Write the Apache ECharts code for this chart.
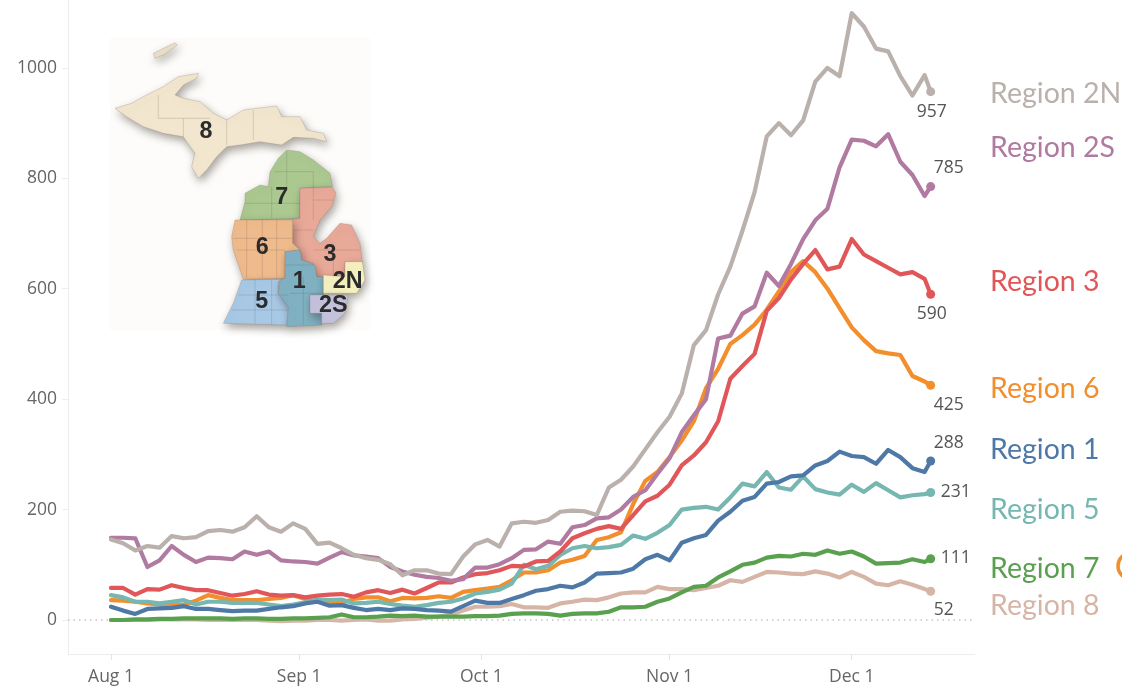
<!DOCTYPE html>
<html><head><meta charset="utf-8">
<style>html,body{margin:0;padding:0;background:#fff}#c{width:1122px;height:686px}</style>
<script src="https://cdn.jsdelivr.net/npm/echarts@6/dist/echarts.min.js"></script>
</head><body><div id="c"></div>
<script>
const dates = ['2020-08-01','2020-08-03','2020-08-05','2020-08-07','2020-08-09','2020-08-11','2020-08-13','2020-08-15','2020-08-17','2020-08-19','2020-08-21','2020-08-23','2020-08-25','2020-08-27','2020-08-29','2020-08-31',
'2020-09-02','2020-09-04','2020-09-06','2020-09-08','2020-09-10','2020-09-12','2020-09-14','2020-09-16','2020-09-18','2020-09-20','2020-09-22','2020-09-24','2020-09-26','2020-09-28','2020-09-30',
'2020-10-02','2020-10-04','2020-10-06','2020-10-08','2020-10-10','2020-10-12','2020-10-14','2020-10-16','2020-10-18','2020-10-20','2020-10-22','2020-10-24','2020-10-26','2020-10-28','2020-10-30',
'2020-11-01','2020-11-03','2020-11-05','2020-11-07','2020-11-09','2020-11-11','2020-11-13','2020-11-15','2020-11-17','2020-11-19','2020-11-21','2020-11-23','2020-11-25','2020-11-27','2020-11-29',
'2020-12-01','2020-12-03','2020-12-05','2020-12-07','2020-12-09','2020-12-11','2020-12-13','2020-12-14'];

const region8 = [0,0,0,0,1,1,1,1,0,0,0,0,0,-1,-2,-1,-1,0,0,-1,0,1,-1,-1,1,2,4,6,10,17,24,24,25,29,23,23,22,30,33,37,36,41,48,50,50,60,56,56,54,58,62,72,69,78,87,86,84,83,88,84,77,87,78,66,63,70,64,56,52];
const region6 = [36,35,33,30,28,27,28,35,45,40,36,36,36,38,40,45,38,33,32,31,38,41,41,34,40,39,40,43,40,51,54,57,60,72,86,86,90,104,109,116,145,150,159,210,252,268,295,325,360,420,455,500,516,535,562,595,630,650,630,600,565,530,507,487,483,480,442,432,425];
const region5 = [45,41,33,33,30,33,36,28,33,33,31,31,31,28,25,28,32,37,36,37,30,31,33,29,26,24,27,31,33,39,48,51,55,66,100,92,98,118,130,134,130,132,136,153,147,158,172,200,203,205,200,222,247,242,268,240,236,260,237,231,227,245,232,248,235,222,226,228,231];
const region3 = [58,58,46,56,55,63,58,54,54,49,44,47,52,46,44,45,41,44,46,47,42,50,54,49,55,48,58,68,68,77,83,85,90,98,97,106,107,124,148,157,165,170,165,190,215,225,245,280,298,322,360,437,460,482,560,583,617,645,670,635,640,690,662,650,638,626,630,618,590];
const region2S = [149,149,148,96,108,134,118,105,113,112,110,124,118,124,108,106,105,102,113,123,117,115,112,96,88,82,78,76,71,74,95,95,101,112,127,128,142,138,168,172,184,186,200,223,235,265,293,340,371,400,510,515,555,568,629,605,645,690,724,745,820,870,868,858,880,830,806,768,785];
const region2N = [146,139,126,134,131,152,148,150,161,163,160,168,188,168,160,175,165,138,140,130,118,112,109,101,81,90,90,84,83,115,137,145,133,175,178,176,181,196,198,197,190,240,254,278,309,340,368,410,498,525,590,640,705,775,876,900,878,905,975,1000,985,1099,1075,1035,1030,985,950,987,957];
const region1 = [24,17,11,20,21,22,25,20,20,18,16,17,17,20,23,25,30,33,26,27,22,18,20,18,21,20,18,17,15,25,35,31,31,38,45,53,56,62,59,68,84,85,86,93,110,118,108,140,148,154,180,196,216,223,247,250,260,262,280,288,305,297,295,283,308,295,275,268,288];
const region7 = [0,0,1,1,2,2,3,3,3,3,2,3,3,2,2,3,3,4,5,10,5,5,6,8,7,8,6,6,6,6,7,7,8,11,12,12,11,8,11,12,12,15,23,23,24,33,39,50,60,62,77,88,100,104,113,116,115,120,118,126,120,124,115,102,103,104,110,105,111];

const seriesNames = ['Region 8','Region 6','Region 5','Region 3','Region 2S','Region 2N','Region 1','Region 7'];
const seriesValues = [region8,region6,region5,region3,region2S,region2N,region1,region7];
const seriesColors = ['#d7b5a6','#f28e2b','#76b7b2','#e15759','#b07aa1','#bab0ac','#4e79a7','#59a14f'];
const endLabelOffsets = [[13,19],[18,20],[25,0],[1,20],[18,-19],[1,20],[18,-18],[25,-1]];

const yTicks = [0,200,400,600,800,1000];
const xTickDates = ['2020-08-01','2020-09-01','2020-10-01','2020-11-01','2020-12-01'];
const xTickLabels = ['Aug 1','Sep 1','Oct 1','Nov 1','Dec 1'];

const legendNames = ['Region 2N','Region 2S','Region 3','Region 6','Region 1','Region 5','Region 7','Region 8'];
const legendColors = ['#bab0ac','#b07aa1','#e15759','#f28e2b','#4e79a7','#76b7b2','#59a14f','#d7b5a6'];
const legendY = [94,148,282,389,450,510,569,606];

const mapShapes = [
 ['#ecdfc8',[[160,70],[225,38],[232,45],[195,72],[165,85]]],
 ['#f2e6cf',[[45,235],[95,220],[130,200],[190,170],[235,140],[295,130],[290,145],[250,165],[225,195],[250,205],[300,215],[340,250],[380,270],[430,240],[470,235],[530,228],[545,260],[600,260],[620,300],[670,310],[680,335],[640,325],[580,322],[545,345],[480,335],[420,345],[380,350],[350,380],[320,420],[295,445],[275,410],[285,370],[250,320],[190,310],[130,290],[80,260]]],
 ['#aac890',[[535,385],[560,360],[600,365],[640,390],[690,430],[697,470],[640,472],[600,475],[600,565],[420,570],[435,515],[435,490],[480,465],[505,470],[510,425]]],
 ['#e9a999',[[600,475],[697,472],[708,490],[695,530],[660,570],[640,620],[660,640],[680,625],[720,580],[755,585],[780,640],[787,700],[735,695],[735,740],[670,740],[650,740],[640,700],[605,690],[600,660],[575,640],[578,568],[600,565]]],
 ['#efba8c',[[405,570],[578,570],[578,640],[600,660],[555,665],[555,745],[430,748],[400,660],[395,620]]],
 ['#a8c9e6',[[425,750],[555,748],[535,755],[535,790],[565,800],[570,840],[560,885],[370,880],[400,820]]],
 ['#80b1c2',[[555,665],[600,660],[605,690],[645,705],[650,740],[670,740],[670,795],[630,795],[630,850],[665,850],[665,885],[560,890],[565,830],[535,790],[540,750],[555,745]]],
 ['#f5f0bf',[[735,695],[787,695],[795,750],[770,790],[670,790],[670,735],[735,740]]],
 ['#c4c1dc',[[630,795],[745,795],[735,850],[700,880],[665,880],[665,850],[630,850]]]
];
const mapCountyLines = [
 [[175,195],[175,265],[250,265],[250,320]],[[250,265],[330,265]],[[460,240],[460,330]],[[380,270],[380,345]],
 [[525,425],[640,425],[640,472]],[[560,365],[560,475]],[[435,520],[600,520]],[[515,470],[515,565]],
 [[640,510],[700,510]],[[640,472],[640,570]],[[580,600],[640,600]],
 [[400,625],[578,625]],[[440,570],[440,745]],[[487,570],[487,745]],[[530,570],[530,745]],[[410,660],[555,660]],
 [[415,795],[565,795]],[[465,750],[465,880]],[[515,750],[515,885]],[[395,840],[565,840]],
 [[610,740],[610,885]],[[555,705],[640,705]],[[570,790],[670,790]],[[700,640],[700,740]],[[640,660],[780,660]]
];
const mapLabels = [['8',318,305],['7',545,502],['6',487,652],['3',690,674],['1',598,754],['2N',743,756],['5',485,816],['2S',700,826]];

const ms = s => { const p = s.split('-').map(Number); return new Date(p[0], p[1]-1, p[2]).getTime(); };
const dayMs = 86400000;
const xTickValues = xTickDates.map(ms);
const chart = echarts.init(document.getElementById('c'), null, {renderer:'canvas'});

const series = seriesNames.map((name,i) => {
  const vals = seriesValues[i];
  const data = vals.map((v,k) => {
    const item = {value:[ms(dates[k]), v]};
    if (k === vals.length-1) {
      item.symbol = 'circle';
      item.symbolSize = 9;
      item.label = {show:true, position:'inside', offset:endLabelOffsets[i], color:'#555', fontSize:17.5, fontFamily:'Open Sans',
                    formatter: p => String(p.value[1])};
    }
    return item;
  });
  const s = {name, type:'line', data, symbol:'none', showSymbol:true, showAllSymbol:true, smooth:false, silent:true, animation:false, clip:false,
    lineStyle:{color:seriesColors[i], width:4.2, join:'round', cap:'round'}, itemStyle:{color:seriesColors[i]}, z:2+i};
  if (i === 0) s.markLine = {silent:true, symbol:'none', animation:false, label:{show:false},
    lineStyle:{color:'#c4c4c4', type:[1.5,4], width:1.5}, data:[{yAxis:0}]};
  return s;
});

const graphic = [
  {type:'rect', z:0, shape:{x:110,y:38,width:260,height:292}, style:{fill:'#fdfcfa'}},
  {type:'group', x:100, y:30, scaleX:1/3, scaleY:1/3, children:[
    ...mapShapes.map(m => ({type:'polygon', z:1, shape:{points:m[1]}, style:{fill:m[0], stroke:'rgba(120,110,95,0.35)', lineWidth:2, shadowBlur:8, shadowColor:'rgba(60,50,40,0.45)', shadowOffsetX:2, shadowOffsetY:4}})),
    ...mapCountyLines.map(l => ({type:'polyline', z:1, shape:{points:l}, style:{stroke:'rgba(90,80,70,0.28)', lineWidth:2, fill:null}})),
    ...mapLabels.map(l => ({type:'text', z:1, x:l[1], y:l[2], style:{text:l[0], fill:'#2b2b2b', font:'bold 70px "Liberation Sans"', align:'center', verticalAlign:'middle'}}))
  ]},
  ...legendNames.map((n,i) => ({type:'text', x:990, y:legendY[i], z:10, style:{text:n, fill:legendColors[i], font:'28.5px Lato', align:'left', verticalAlign:'middle'}})),
  {type:'circle', z:10, shape:{cx:1131,cy:566,r:13}, style:{fill:'none', stroke:'#f28e2b', lineWidth:3.5}}
];

chart.setOption({
  animation:false,
  backgroundColor:'#fff',
  grid:{left:68, top:0, width:907, height:654, containLabel:false},
  xAxis:{type:'value', min:ms('2020-08-01')-7.08*dayMs, max:ms('2020-08-01')+142.3*dayMs, scale:true, splitLine:{show:false},
    axisLine:{show:true, onZero:false, lineStyle:{color:'#ececec', width:1}},
    axisTick:{show:true, length:6, lineStyle:{color:'#e4e4e4'}, customValues:xTickValues},
    axisLabel:{color:'#666', fontSize:17.5, fontFamily:'Open Sans', margin:14, hideOverlap:false,
      customValues:xTickValues,
      formatter: v => xTickLabels[xTickValues.indexOf(+v)] || ''}},
  yAxis:{type:'value', min:-61.6, max:1123, scale:true, splitLine:{show:false},
    axisLine:{show:true, onZero:false, lineStyle:{color:'#ececec', width:1}},
    axisTick:{show:true, length:6, lineStyle:{color:'#eeeeee'}, customValues:yTicks},
    axisLabel:{color:'#666', fontSize:17.5, fontFamily:'Open Sans', margin:11, customValues:yTicks, formatter: v => String(v)}},
  series,
  graphic
});
</script></body></html>
